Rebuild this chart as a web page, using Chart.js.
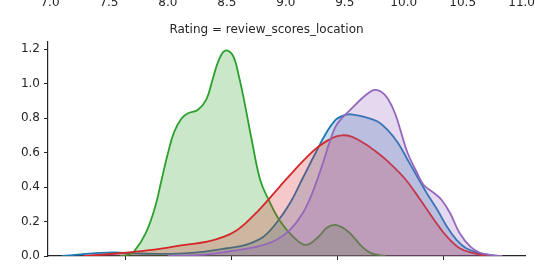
<!DOCTYPE html>
<html>
<head>
<meta charset="utf-8">
<script src="https://cdn.jsdelivr.net/npm/chart.js@4.4.0/dist/chart.umd.min.js"></script>
<style>
    html, body { margin: 0; padding: 0; background: #fff; overflow: hidden; width: 535px; height: 265px; }
    #wrap { position: relative; width: 535px; height: 300px; }
    canvas { display: block; }
</style>
</head>
<body>
<div id="wrap"><canvas id="chart1" width="535" height="300"></canvas></div>
<script>
// KDE curves per group
const blueX   = [6.40, 6.55, 6.75, 6.95, 7.10, 7.30, 7.55, 7.75, 7.96, 8.14, 8.30, 8.42, 8.55, 8.67, 8.79, 8.89, 8.98, 9.04, 9.10, 9.16, 9.26, 9.38, 9.47, 9.57, 9.66, 9.75, 9.84, 9.94, 10.03, 10.12, 10.21, 10.34, 10.46, 10.55];
const blueY   = [0.0, 0.008, 0.018, 0.02, 0.015, 0.012, 0.015, 0.025, 0.045, 0.066, 0.112, 0.190, 0.306, 0.451, 0.596, 0.712, 0.789, 0.812, 0.822, 0.818, 0.805, 0.779, 0.731, 0.654, 0.557, 0.460, 0.364, 0.267, 0.170, 0.093, 0.045, 0.016, 0.004, 0.0];

const greenX  = [6.95, 7.02, 7.08, 7.19, 7.28, 7.34, 7.40, 7.46, 7.53, 7.59, 7.68, 7.76, 7.82, 7.88, 7.94, 8.01, 8.07, 8.13, 8.19, 8.27, 8.35, 8.45, 8.58, 8.70, 8.82, 8.90, 8.98, 9.10, 9.23, 9.32, 9.45];
const greenY  = [0.0, 0.006, 0.025, 0.131, 0.286, 0.441, 0.596, 0.721, 0.799, 0.828, 0.847, 0.905, 1.021, 1.137, 1.191, 1.166, 1.040, 0.865, 0.673, 0.441, 0.325, 0.209, 0.112, 0.064, 0.112, 0.165, 0.180, 0.141, 0.054, 0.015, 0.0];

const redX    = [6.60, 6.75, 6.94, 7.25, 7.56, 7.77, 7.93, 8.05, 8.14, 8.24, 8.33, 8.45, 8.58, 8.70, 8.82, 8.95, 9.04, 9.13, 9.26, 9.35, 9.47, 9.63, 9.78, 9.91, 10.03, 10.15, 10.28, 10.40, 10.55];
const redY    = [0.0, 0.006, 0.016, 0.035, 0.064, 0.083, 0.112, 0.150, 0.195, 0.255, 0.315, 0.400, 0.490, 0.568, 0.635, 0.685, 0.700, 0.692, 0.650, 0.610, 0.550, 0.451, 0.325, 0.209, 0.112, 0.045, 0.016, 0.002, 0.0];

const purpleX = [7.40, 7.70, 7.96, 8.24, 8.42, 8.55, 8.67, 8.76, 8.86, 8.92, 8.98, 9.04, 9.13, 9.23, 9.30, 9.35, 9.41, 9.47, 9.54, 9.60, 9.66, 9.75, 9.81, 9.91, 9.98, 10.06, 10.15, 10.25, 10.34, 10.46, 10.55];
const purpleY = [0.0, 0.006, 0.025, 0.054, 0.093, 0.151, 0.248, 0.364, 0.538, 0.654, 0.750, 0.800, 0.855, 0.915, 0.950, 0.963, 0.953, 0.915, 0.828, 0.712, 0.596, 0.480, 0.412, 0.364, 0.325, 0.248, 0.132, 0.054, 0.019, 0.004, 0.0];

// axis ticks
const xTicks     = [7, 8, 9, 10];
const yTicks     = [0.0, 0.2, 0.4, 0.6, 0.8, 1.0, 1.2];
const upperTicks = [7.0, 7.5, 8.0, 8.5, 9.0, 9.5, 10.0, 10.5, 11.0];   // x labels of the facet above

const titleText = 'Rating = review_scores_location';

const ink = '#262626';
const font = { family: 'DejaVu Sans', size: 12 };

function pts(xs, ys) {
    return xs.map((x, i) => ({ x: x, y: ys[i] }));
}

function kde(data, color, fillColor, order) {
    return {
        data: data,
        borderColor: color,
        backgroundColor: fillColor,
        borderWidth: 1.8,
        fill: 'origin',
        pointRadius: 0,
        tension: 0.4,
        order: order
    };
}

const ctx1 = document.getElementById('chart1').getContext('2d');
const myChart1 = new Chart(ctx1, {
    type: 'line',
    data: {
        datasets: [
            kde(pts(blueX, blueY), '#1f77b4', 'rgba(31, 119, 180, 0.25)', 4),
            kde(pts(greenX, greenY), '#2ca02c', 'rgba(44, 160, 44, 0.25)', 3),
            kde(pts(redX, redY), '#d62728', 'rgba(214, 39, 40, 0.25)', 2),
            kde(pts(purpleX, purpleY), '#9467bd', 'rgba(148, 103, 189, 0.25)', 1)
        ]
    },
    options: {
        responsive: false,
        animation: false,
        layout: { padding: { left: 0, right: 2, top: 0, bottom: 0 } },
        plugins: {
            legend: { display: false },
            tooltip: { enabled: false },
            title: {
                display: true,
                text: titleText,
                color: ink,
                font: { family: 'DejaVu Sans', size: 12, weight: 'normal' },
                padding: { top: 12.8, bottom: 4.5 }
            }
        },
        scales: {
            x: {
                type: 'linear',
                position: 'bottom',
                min: 6.27,
                max: 10.77,
                afterBuildTicks: s => { s.ticks = xTicks.map(v => ({ value: v })); },
                afterFit: s => { s.height = 44; },
                ticks: { color: ink, font: font, padding: 5 },
                grid: { drawOnChartArea: false, tickLength: 4, color: ink, tickWidth: 1 },
                border: { color: ink, width: 1.2 }
            },
            y: {
                min: 0,
                max: 1.243,
                afterBuildTicks: s => { s.ticks = yTicks.map(v => ({ value: v })); },
                afterFit: s => { s.width = 48; },
                ticks: { color: ink, font: font, padding: 4, callback: v => v.toFixed(1) },
                grid: { drawOnChartArea: false, tickLength: 4, color: ink, tickWidth: 1 },
                border: { color: ink, width: 1.2 }
            },
            upper: {
                type: 'linear',
                position: 'top',
                weight: 3000,
                min: 6.983,
                max: 11.033,
                afterBuildTicks: s => { s.ticks = upperTicks.map(v => ({ value: v })); },
                afterFit: s => { s.height = 10; },
                ticks: { color: ink, font: font, padding: 0, callback: v => v.toFixed(1) },
                grid: { display: false, drawTicks: false },
                border: { display: false }
            }
        }
    }
});
</script>
</body>
</html>
